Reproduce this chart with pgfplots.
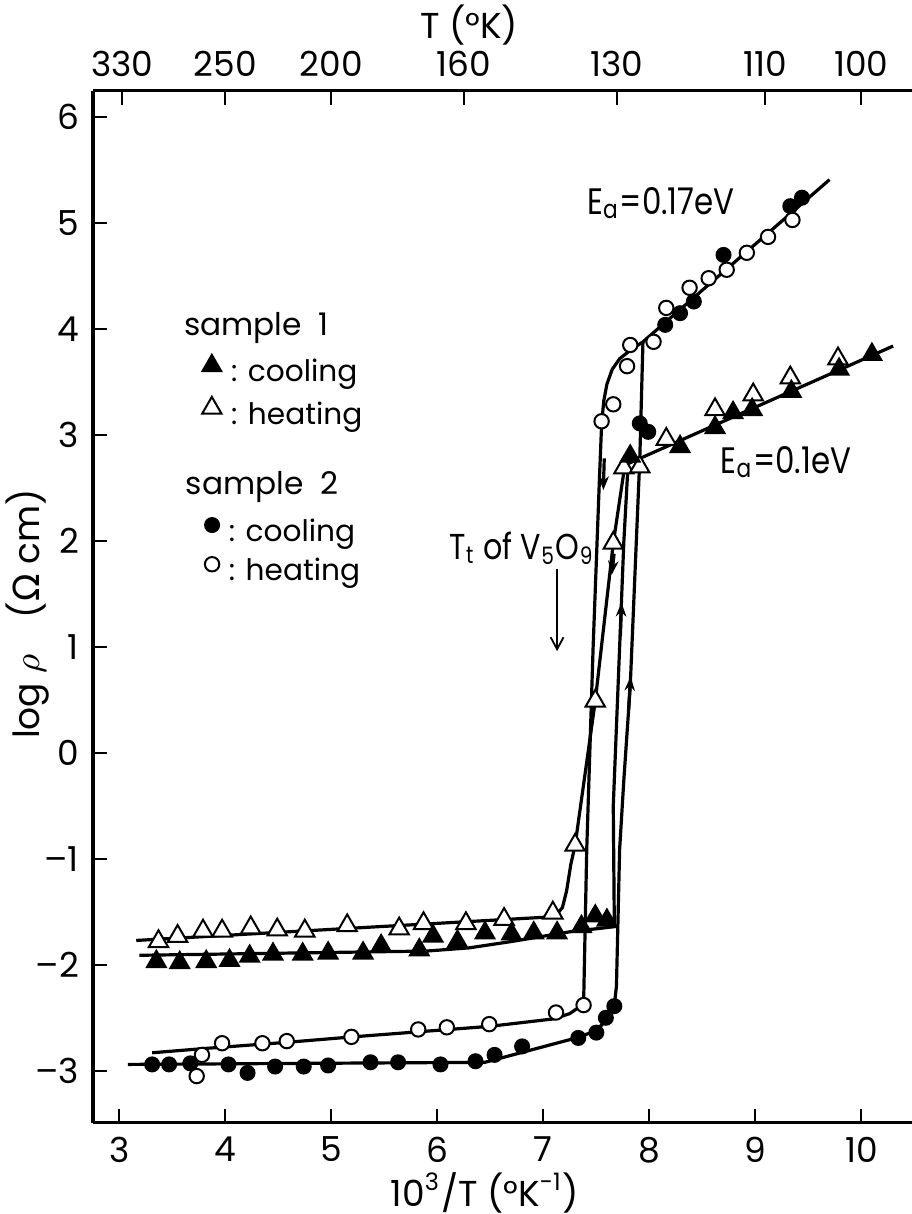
\documentclass[border=0pt]{standalone}
\usepackage{fontspec}
\setmainfont{Poppins}
\newfontfamily\nar{Poppins}[FakeStretch=0.84]
\newfontfamily\grk{DejaVu Sans}
\usepackage{pgfplots}
\pgfplotsset{compat=1.18}
\usetikzlibrary{arrows.meta}

\begin{document}
\begin{tikzpicture}
\pgfplotsset{
  common/.style={
    at={(0,0)}, anchor=south west,
    scale only axis, width=204.75pt, height=258pt,
    xmin=2.752, xmax=10.478, ymin=-3.49, ymax=6.25,
    axis line style={-, line width=0.8pt},
    tick align=inside, major tick length=3.5pt,
    tick style={line width=0.5pt, black},
    /pgf/number format/assume math mode=true,
    tick label style={font=\fontsize{8.6}{10}\selectfont},
    legend cell align=left,
    legend image code/.code={\draw[##1, only marks] plot coordinates {(0pt,2pt)};},
  },
  lgd/.style={legend style={draw=none, fill=none, at={#1}, anchor=west,
    inner sep=0pt, row sep=1.8pt, font=\fontsize{7.4}{8}\selectfont,
    nodes={inner sep=0pt, text height=6pt, text depth=2pt},
    /tikz/every odd column/.append style={column sep=2.4pt}}},
  ln/.style={black, line width=0.8pt, mark=none},
  ftri/.style={only marks, mark=triangle*, mark size=2.8pt, mark options={fill=black, draw=black, line width=0.4pt}},
  otri/.style={only marks, mark=triangle*, mark size=2.8pt, mark options={fill=white, draw=black, line width=0.5pt}},
  fcir/.style={only marks, mark=*, mark size=1.8pt, mark options={fill=black, draw=black, line width=0.4pt}},
  ocir/.style={only marks, mark=*, mark size=1.8pt, mark options={fill=white, draw=black, line width=0.5pt}},
}
\begin{axis}[common, name=main,
  axis x line*=bottom, axis y line*=left,
  xtick={3,...,10}, ytick={-3,...,6},
  yticklabels={–3,–2,–1,0,1,2,3,4,5,6},
  clip=false,
  lgd={(axis cs:3.774,3.394)},
]
% legend, sample 1
\addlegendimage{ftri}
\addlegendentry{: cooling}
\addlegendimage{otri}
\addlegendentry{: heating}

% ---- fitted curves ----
% sample 1 heating: low branch + transition
\addplot[ln] coordinates {(3.16,-1.77) (7.03,-1.55) (7.13,-1.52) (7.18,-1.46) (7.22,-1.30) (7.26,-1.05) (7.30,-0.87) (7.49,0.49) (7.66,1.98) (7.77,2.72)};
% sample 1 cooling: low branch + jump
\addplot[ln] coordinates {(3.19,-1.91) (5.90,-1.87) (6.30,-1.84) (6.70,-1.78) (7.00,-1.73) (7.30,-1.68) (7.50,-1.66) (7.67,-1.64) (7.66,-0.50) (7.72,1.00) (7.76,2.00) (7.80,2.73)};
% sample 1 upper branch, Ea = 0.1 eV
\addplot[ln] coordinates {(7.80,2.73) (10.30,3.84)};
% sample 2 cooling: low branch + jump
\addplot[ln] coordinates {(3.08,-2.94) (6.45,-2.92) (7.31,-2.69) (7.45,-2.64) (7.55,-2.57) (7.62,-2.48) (7.67,-2.38) (7.69,-2.20) (7.72,-0.91) (7.76,-0.25) (7.82,0.63) (7.91,2.77) (7.94,3.88)};
% sample 2 heating: low branch + drop + upper branch (Ea = 0.17 eV)
\addplot[ln] coordinates {(3.31,-2.83) (3.80,-2.79) (4.60,-2.73) (5.20,-2.68) (6.50,-2.58) (7.10,-2.51) (7.25,-2.46) (7.38,-2.37) (7.41,-0.90) (7.47,1.00) (7.53,2.60) (7.55,3.10) (7.57,3.32) (7.60,3.48) (7.65,3.62) (7.72,3.72) (7.82,3.80) (7.94,3.88) (9.70,5.41)};

% ---- data ----
\addplot[otri] coordinates {(3.37,-1.78) (3.55,-1.73) (3.79,-1.68) (3.97,-1.68) (4.24,-1.65) (4.49,-1.67) (4.75,-1.68) (5.15,-1.63) (5.64,-1.66) (5.87,-1.61) (6.27,-1.61) (6.63,-1.57) (7.09,-1.51) (7.30,-0.87) (7.49,0.49) (7.66,1.98) (7.76,2.69) (7.91,2.70) (8.16,2.96) (8.62,3.24) (8.98,3.38) (9.33,3.54) (9.78,3.72)};
\addplot[ftri] coordinates {(3.35,-1.97) (3.57,-1.98) (3.82,-1.97) (4.04,-1.96) (4.23,-1.92) (4.45,-1.90) (4.73,-1.90) (4.97,-1.89) (5.30,-1.89) (5.47,-1.82) (5.83,-1.86) (5.96,-1.73) (6.19,-1.78) (6.45,-1.70) (6.70,-1.71) (6.91,-1.70) (7.13,-1.70) (7.36,-1.64) (7.49,-1.54) (7.60,-1.58) (7.82,2.80) (8.29,2.89) (8.62,3.07) (8.79,3.21) (8.97,3.24) (9.34,3.41) (9.79,3.62) (10.10,3.76)};
\addplot[ocir] coordinates {(3.73,-3.05) (3.78,-2.85) (3.97,-2.74) (4.35,-2.74) (4.58,-2.72) (5.19,-2.68) (5.82,-2.61) (6.09,-2.59) (6.49,-2.56) (7.12,-2.45) (7.38,-2.38) (7.55,3.13) (7.66,3.29) (7.79,3.65) (7.82,3.85) (8.04,3.88) (8.16,4.20) (8.38,4.39) (8.56,4.48) (8.73,4.56) (8.92,4.72) (9.12,4.87) (9.35,5.03)};
\addplot[fcir] coordinates {(3.31,-2.94) (3.47,-2.94) (3.67,-2.93) (4.03,-2.94) (4.21,-3.02) (4.47,-2.96) (4.74,-2.96) (4.97,-2.95) (5.37,-2.92) (5.63,-2.92) (6.03,-2.94) (6.36,-2.91) (6.54,-2.85) (6.80,-2.77) (7.33,-2.69) (7.50,-2.64) (7.59,-2.50) (7.67,-2.39) (7.91,3.11) (7.99,3.03) (8.15,4.04) (8.29,4.15) (8.42,4.26) (8.70,4.70) (9.33,5.16) (9.44,5.24)};

% ---- arrows on curves ----
\draw[line width=0.8pt, -{Stealth[length=3.5pt,width=2.6pt]}] (axis cs:7.575,2.78) -- (axis cs:7.566,2.48);
\draw[line width=0.8pt, -{Stealth[length=3.5pt,width=2.6pt]}] (axis cs:7.668,1.88) -- (axis cs:7.645,1.68);
\draw[line width=0.8pt, -{Stealth[length=3.5pt,width=2.6pt]}] (axis cs:7.727,1.10) -- (axis cs:7.738,1.42);
\draw[line width=0.8pt, -{Stealth[length=3.5pt,width=2.6pt]}] (axis cs:7.804,0.40) -- (axis cs:7.823,0.72);
% T_t arrow
\draw[line width=0.45pt, -{Straight Barb[length=3pt,width=3.2pt]}] (axis cs:7.13,1.74) -- (axis cs:7.13,0.96);

% ---- texts ----
\node[anchor=west, font=\fontsize{7.8}{9}\selectfont] at (axis cs:3.478,4.01) {sample\hspace{0.55em}1};
\node[anchor=west, font=\fontsize{7.8}{9}\selectfont] at (axis cs:3.494,2.51) {sample\hspace{0.55em}2};
\node[font=\fontsize{9}{10}\nar] at (axis cs:6.80,1.93) {T\textsubscript{t} of V\textsubscript{5}O\textsubscript{9}};
\node[font=\fontsize{9.2}{10}\nar] at (axis cs:8.11,5.19) {E\textsubscript{a}=0.17eV};
\node[font=\fontsize{9.2}{10}\nar] at (axis cs:9.29,2.74) {E\textsubscript{a}=0.1eV};
\node[font=\fontsize{9}{10}\selectfont] at (axis cs:6.30,6.87) {T (°K)};
\node[font=\fontsize{9}{10}\selectfont] at (axis cs:6.45,-4.15) {10\textsuperscript{3}/T (°K\textsuperscript{-1})};
\node[font=\fontsize{9}{10}\selectfont, rotate=90] at (axis cs:2.13,1.31) {log $\rho$\hspace{1em}({\grk Ω} cm)};
\end{axis}
\begin{axis}[common,
  axis x line*=top, axis y line=none,
  xtick={3.0303,4,5,6.25,7.6923,9.0909,10},
  xticklabels={330,250,200,160,130,110,100},
  lgd={(axis cs:3.80,1.89)},
]
% legend, sample 2
\addlegendimage{fcir}
\addlegendentry{: cooling}
\addlegendimage{ocir}
\addlegendentry{: heating}
\end{axis}
\pgfresetboundingbox
\path[use as bounding box] (main.south west) ++(-23.25pt,-22.825pt) rectangle ++(228pt,303.5pt);
\end{tikzpicture}
\end{document}
